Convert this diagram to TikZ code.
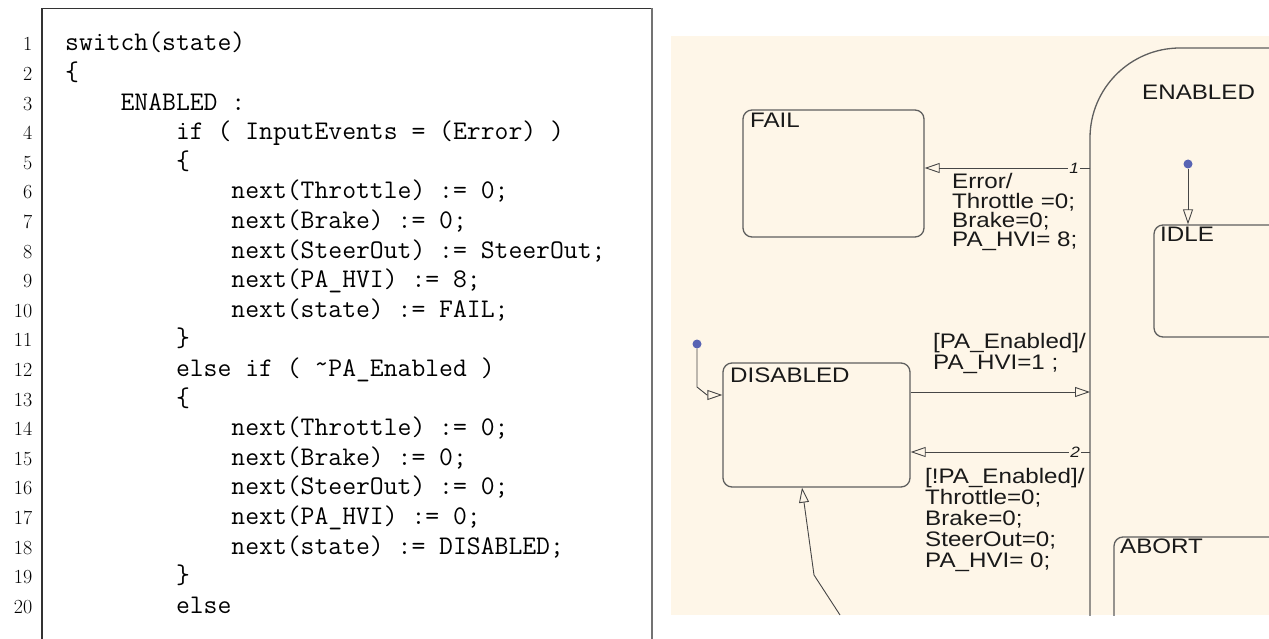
\documentclass[tikz,border=0pt]{standalone}
\usepackage{fontspec}
\newfontfamily\sfst[FakeStretch=1.15]{Liberation Sans}
\usetikzlibrary{arrows.meta}
\definecolor{bg}{RGB}{254,246,232}
\definecolor{ln}{RGB}{70,70,70}
\definecolor{stc}{RGB}{95,95,95}
\definecolor{dotc}{RGB}{88,100,180}
\definecolor{txt}{RGB}{25,25,25}
\newcommand\cind[1]{\hspace*{#1\fontcharwd\font`x}}
\newcommand\stfont{\sfst\fontsize{21}{21}\selectfont}
\newcommand\hitilde{\raisebox{0.35ex}{\textasciitilde}}
\begin{document}
\begin{tikzpicture}[x=1pt,y=-1pt,
  frame/.style={draw=black!80, line width=1.2pt},
  statebox/.style={draw=stc, line width=1.3pt, rounded corners=9pt, inner sep=0pt},
  stname/.style={anchor=base west, inner sep=0pt, text=txt, font=\stfont},
  lbl/.style={anchor=base west, inner sep=0pt, text=txt},
  tr/.style={draw=ln, line width=0.9pt, -{Triangle[open, length=15pt, width=10pt, line width=0.9pt]}},
  num/.style={fill=bg, inner sep=1.5pt, text=txt, font=\sfst\itshape\fontsize{15}{15}\selectfont},
  dflt/.style={circle, fill=dotc, minimum size=9pt, inner sep=0pt}]
\useasboundingbox[fill=white] (0,0) rectangle (1269,639);

% ---------- code listing ----------
\draw[frame] (42,639) -- (42,8.5) -- (652,8.5);
\draw[draw=black!55, line width=1.2pt] (652,8.5) -- (652,639);
\node[anchor=base east, inner sep=0pt] (nums) at (33,51) {\vtop{\fontsize{20}{29.6}\selectfont\lineskiplimit=-100pt
  \hbox to 0pt{\hss 1}\hbox to 0pt{\hss 2}\hbox to 0pt{\hss 3}\hbox to 0pt{\hss 4}\hbox to 0pt{\hss 5}%
  \hbox to 0pt{\hss 6}\hbox to 0pt{\hss 7}\hbox to 0pt{\hss 8}\hbox to 0pt{\hss 9}\hbox to 0pt{\hss 10}%
  \hbox to 0pt{\hss 11}\hbox to 0pt{\hss 12}\hbox to 0pt{\hss 13}\hbox to 0pt{\hss 14}\hbox to 0pt{\hss 15}%
  \hbox to 0pt{\hss 16}\hbox to 0pt{\hss 17}\hbox to 0pt{\hss 18}\hbox to 0pt{\hss 19}\hbox to 0pt{\hss 20}}};
\node[anchor=base west, inner sep=0pt] (code) at (65,51) {\vtop{\fontsize{26.9}{29.6}\selectfont\ttfamily\lineskiplimit=-100pt
  \hbox{switch(state)}
  \hbox{\{}
  \hbox{\cind{4}ENABLED :}
  \hbox{\cind{8}if ( InputEvents = (Error) )}
  \hbox{\cind{8}\{}
  \hbox{\cind{12}next(Throttle) := 0;}
  \hbox{\cind{12}next(Brake) := 0;}
  \hbox{\cind{12}next(SteerOut) := SteerOut;}
  \hbox{\cind{12}next(PA\_HVI) := 8;}
  \hbox{\cind{12}next(state) := FAIL;}
  \hbox{\cind{8}\}}
  \hbox{\cind{8}else if ( \hitilde PA\_Enabled )}
  \hbox{\cind{8}\{}
  \hbox{\cind{12}next(Throttle) := 0;}
  \hbox{\cind{12}next(Brake) := 0;}
  \hbox{\cind{12}next(SteerOut) := 0;}
  \hbox{\cind{12}next(PA\_HVI) := 0;}
  \hbox{\cind{12}next(state) := DISABLED;}
  \hbox{\cind{8}\}}
  \hbox{\cind{8}else}}};

% ---------- Stateflow chart ----------
\fill[bg] (671,36) rectangle (1269,615);
\begin{scope}
\clip (671,36) rectangle (1269,615);
% states
\node[statebox, rounded corners=90pt, minimum width=410pt, minimum height=752pt] (enabled) at (1295,424) {};
\node[stname] (enabledname) at (1142,100) {ENABLED};
\node[statebox, minimum width=181pt, minimum height=127pt] (fail) at (833.5,173.5) {};
\node[stname] (failname) at (750,128) {FAIL};
\node[statebox, minimum width=187pt, minimum height=124pt] (disabled) at (816.5,425) {};
\node[stname] (disabledname) at (730,382) {DISABLED};
\node[statebox, minimum width=246pt, minimum height=112pt] (idle) at (1277,281) {};
\node[stname] (idlename) at (1160,242) {IDLE};
\node[statebox, minimum width=286pt, minimum height=213pt] (abort) at (1257,643.5) {};
\node[stname] (abortname) at (1120,553) {ABORT};

% transition end points on the ENABLED border
\coordinate (e1) at (1090,168);
\coordinate (e2) at (1090,392);
\coordinate (e3) at (1090,452);

% ENABLED -> FAIL
\draw[tr] (e1) -- node[num, pos=0.096] (n1) {1} (fail.east |- e1);
\node[lbl] (lblerr) at (952,189) {\vtop{\stfont\baselineskip=19.3pt\lineskiplimit=-100pt
  \hbox{Error/}\hbox{Throttle =0;}\hbox{Brake=0;}\hbox{PA\_HVI= 8;}}};

% DISABLED -> ENABLED
\draw[tr] (disabled.east |- e2) -- (e2);
\node[lbl] (lblen) at (933,348) {\vtop{\stfont\baselineskip=21.5pt\lineskiplimit=-100pt
  \hbox{[PA\_Enabled]/}\hbox{PA\_HVI=1 ;}}};

% ENABLED -> DISABLED
\draw[tr] (e3) -- node[num, pos=0.083] (n2) {2} (disabled.east |- e3);
\node[lbl] (lbldis) at (925,483) {\vtop{\stfont\baselineskip=21pt\lineskiplimit=-100pt
  \hbox{[!PA\_Enabled]/}\hbox{Throttle=0;}\hbox{Brake=0;}\hbox{SteerOut=0;}\hbox{PA\_HVI= 0;}}};

% default transition into DISABLED
\node[dflt] (d1) at (697,344) {};
\coordinate (k1) at (0,395);
\draw[tr] (d1.south) -- (697,387) -- (707,395) -- (disabled.west |- k1);

% default transition into IDLE
\node[dflt] (d2) at (1188,164) {};
\draw[tr] (d2.south) -- (d2 |- idle.north);

% transition from below into DISABLED
\coordinate (b0) at (840,615);
\coordinate (b2) at (802,0);
\draw[tr] (b0) -- (814,575) -- (disabled.south -| b2);
\end{scope}
\end{tikzpicture}
\end{document}
